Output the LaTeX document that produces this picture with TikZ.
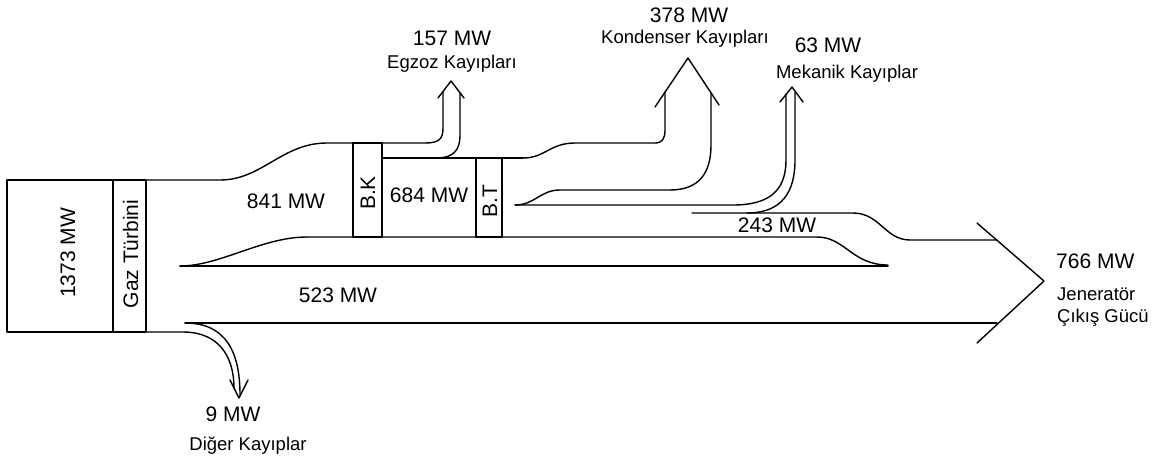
\documentclass[tikz,border=0pt]{standalone}
\usepackage{fontspec}
\setmainfont{Liberation Sans}
\begin{document}
\begin{tikzpicture}[x=1pt,y=-1pt,
  flow/.style={line width=1.4pt, line join=round, line cap=round},
  big/.style={font=\fontsize{21}{25}\selectfont, inner sep=0pt},
  small/.style={font=\fontsize{18.5}{22}\selectfont, inner sep=0pt}]
\useasboundingbox (0,0) rectangle (1161,461);
% gas turbine box
\draw[flow] (7,180) rectangle (146,332);
\draw[flow] (113,180) -- (113,332);
% 841 band top
\draw[flow] (146,180) -- (220,180) .. controls (262,180) and (282,143) .. (327,143) -- (353,143);
% B.K box
\draw[flow] (353,143) rectangle (382,237);
% Egzoz arrow
\draw[flow] (382,143) -- (425,143) .. controls (439,143) and (443,139) .. (443,128) -- (443,92);
\draw[flow] (437,158) .. controls (453,158) and (460,150) .. (460,136) -- (460,93);
\draw[flow] (438,98) -- (451,81) -- (464,98);
% 684 band
\draw[flow] (382,158) -- (523,158);
\draw[flow] (476,158) rectangle (502,237);
% Kondenser arrow
\draw[flow] (523,158) .. controls (545,158) and (550,143) .. (575,143) -- (655,143) .. controls (662,143) and (665,139) .. (665,130) -- (665,92);
\draw[flow] (515,205) .. controls (535,205) and (540,190) .. (560,190) -- (670,190) .. controls (700,190) and (711,172) .. (711,145) -- (711,93);
\draw[flow] (655,107) -- (688,58) -- (719,105);
% Mekanik arrow
\draw[flow] (515,205) -- (733,205) .. controls (770,205) and (786,190) .. (786,160) -- (786,94);
\draw[flow] (747,213) .. controls (782,213) and (795,192) .. (795,160) -- (795,92);
\draw[flow] (780,102) -- (792,87) -- (803,102);
% 243 band top
\draw[flow] (692,213) -- (853,213) .. controls (880,213) and (885,240) .. (910,240) -- (997,240);
% 684 band bottom
\draw[flow] (307,237) -- (817,237) .. controls (845,237) and (852,265) .. (888,265);
% 523 band
\draw[flow] (180,266) .. controls (220,266) and (262,237) .. (307,237);
\draw[flow] (180,266) -- (888,266);
\draw[flow] (185,323) -- (997,323);
% Diger arrow
\draw[flow] (146,332) -- (183,332) .. controls (220,332) and (234,358) .. (234,388);
\draw[flow] (185,323) .. controls (226,323) and (240,352) .. (240,395);
\draw[flow] (230,380) -- (239,398) -- (248,380);
% generator arrow head
\draw[flow] (977,223) -- (1044,281) -- (977,343);
% labels
\node[big, rotate=90, anchor=base] (n1373) at (75,253) {1373 MW};
\node[big, rotate=90, anchor=base] (ngt) at (138,254) {Gaz Türbini};
\node[big, rotate=90, anchor=base] (nbk) at (375,193) {B.K};
\node[big, rotate=90, anchor=base] (nbt) at (497,201) {B.T};
\node[big, anchor=base] (n841) at (286,208) {841 MW};
\node[big, anchor=base] (n684) at (429,202) {684 MW};
\node[big, anchor=base] (n157) at (452,45) {157 MW};
\node[small, anchor=base] (negz) at (452,68) {Egzoz Kayıpları};
\node[big, anchor=base] (n378) at (689,22) {378 MW};
\node[small, anchor=base] (nkon) at (685,43) {Kondenser Kayıpları};
\node[big, anchor=base] (n63) at (828,52) {63 MW};
\node[small, anchor=base] (nmek) at (847,78) {Mekanik Kayıplar};
\node[big, anchor=base] (n243) at (777,232) {243 MW};
\node[big, anchor=base] (n523) at (338,302) {523 MW};
\node[big, anchor=base west] (n766) at (1056,268) {766 MW};
\node[small, anchor=base west] (njen) at (1057,300) {Jeneratör};
\node[small, anchor=base west] (ncik) at (1057,322) {Çıkış Gücü};
\node[big, anchor=base] (n9) at (233,421) {9 MW};
\node[small, anchor=base] (ndig) at (248,450) {Diğer Kayıplar};
\end{tikzpicture}
\end{document}
